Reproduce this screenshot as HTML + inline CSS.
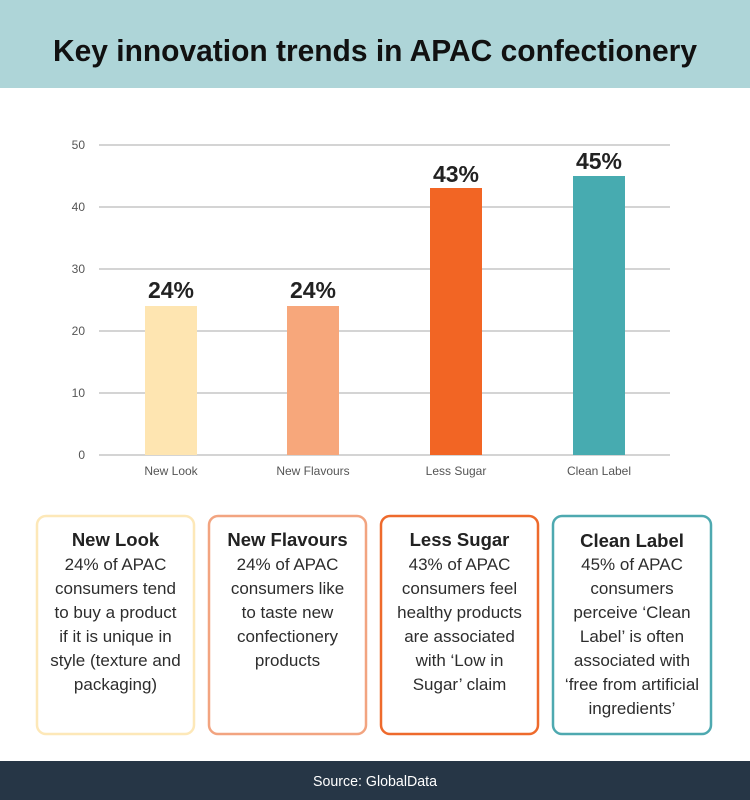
<!DOCTYPE html>
<html>
<head>
<meta charset="utf-8">
<style>
  html,body{margin:0;padding:0;background:#fff;}
  body{width:750px;height:800px;overflow:hidden;}
  svg{display:block;}
</style>
</head>
<body>
<svg width="750" height="800" viewBox="0 0 750 800" xmlns="http://www.w3.org/2000/svg">
  <!-- Header -->
  <rect x="0" y="0" width="750" height="88" fill="#aed5d8"/>
  <text x="375" y="61" text-anchor="middle" font-family="Liberation Sans, sans-serif" font-weight="bold" font-size="31" fill="#111" textLength="644" lengthAdjust="spacingAndGlyphs">Key innovation trends in APAC confectionery</text>

  <!-- Gridlines -->
  <g stroke="#a8a8a8" stroke-width="1">
    <line x1="99" y1="145" x2="670" y2="145"/>
    <line x1="99" y1="207" x2="670" y2="207"/>
    <line x1="99" y1="269" x2="670" y2="269"/>
    <line x1="99" y1="331" x2="670" y2="331"/>
    <line x1="99" y1="393" x2="670" y2="393"/>
    <line x1="99" y1="455" x2="670" y2="455"/>
  </g>
  <g font-family="Liberation Sans, sans-serif" font-size="12" fill="#555" text-anchor="end">
    <text x="85" y="149">50</text>
    <text x="85" y="211">40</text>
    <text x="85" y="273">30</text>
    <text x="85" y="335">20</text>
    <text x="85" y="397">10</text>
    <text x="85" y="459">0</text>
  </g>

  <!-- Bars -->
  <rect x="145" y="306" width="52" height="149" fill="#fee5b1"/>
  <rect x="287" y="306" width="52" height="149" fill="#f7a77b"/>
  <rect x="430" y="188" width="52" height="267" fill="#f26524"/>
  <rect x="573" y="176" width="52" height="279" fill="#47abb0"/>

  <g font-family="Liberation Sans, sans-serif" font-weight="bold" font-size="23" fill="#222" text-anchor="middle">
    <text x="171" y="298">24%</text>
    <text x="313" y="298">24%</text>
    <text x="456" y="182">43%</text>
    <text x="599" y="169">45%</text>
  </g>

  <g font-family="Liberation Sans, sans-serif" font-size="12" fill="#555" text-anchor="middle">
    <text x="171" y="475">New Look</text>
    <text x="313" y="475">New Flavours</text>
    <text x="456" y="475">Less Sugar</text>
    <text x="599" y="475">Clean Label</text>
  </g>

  <!-- Boxes -->
  <g fill="none" stroke-width="2.5">
    <rect x="37" y="516" width="157" height="218" rx="9" stroke="#fde8b8"/>
    <rect x="209" y="516" width="157" height="218" rx="9" stroke="#f2a480"/>
    <rect x="381" y="516" width="157" height="218" rx="9" stroke="#ee6a2c"/>
    <rect x="553" y="516" width="158" height="218" rx="9" stroke="#4ea9b0"/>
  </g>

  <g font-family="Liberation Sans, sans-serif" text-anchor="middle">
    <g font-weight="bold" font-size="18.5" fill="#222">
      <text x="115.5" y="546">New Look</text>
      <text x="287.5" y="546">New Flavours</text>
      <text x="459.5" y="546">Less Sugar</text>
      <text x="632" y="547">Clean Label</text>
    </g>
    <g font-size="17" fill="#2d2d2d">
      <text x="115.5" y="570">24% of APAC</text>
      <text x="115.5" y="594">consumers tend</text>
      <text x="115.5" y="618">to buy a product</text>
      <text x="115.5" y="642">if it is unique in</text>
      <text x="115.5" y="666">style (texture and</text>
      <text x="115.5" y="690">packaging)</text>

      <text x="287.5" y="570">24% of APAC</text>
      <text x="287.5" y="594">consumers like</text>
      <text x="287.5" y="618">to taste new</text>
      <text x="287.5" y="642">confectionery</text>
      <text x="287.5" y="666">products</text>

      <text x="459.5" y="570">43% of APAC</text>
      <text x="459.5" y="594">consumers feel</text>
      <text x="459.5" y="618">healthy products</text>
      <text x="459.5" y="642">are associated</text>
      <text x="459.5" y="666">with ‘Low in</text>
      <text x="459.5" y="690">Sugar’ claim</text>

      <text x="632" y="570">45% of APAC</text>
      <text x="632" y="594">consumers</text>
      <text x="632" y="618">perceive ‘Clean</text>
      <text x="632" y="642">Label’ is often</text>
      <text x="632" y="666">associated with</text>
      <text x="632" y="690">‘free from artificial</text>
      <text x="632" y="714">ingredients’</text>
    </g>
  </g>

  <!-- Footer -->
  <rect x="0" y="761" width="750" height="39" fill="#263646"/>
  <text x="375" y="786" text-anchor="middle" font-family="Liberation Sans, sans-serif" font-size="15" fill="#fff" textLength="124" lengthAdjust="spacingAndGlyphs">Source: GlobalData</text>
</svg>
</body>
</html>
